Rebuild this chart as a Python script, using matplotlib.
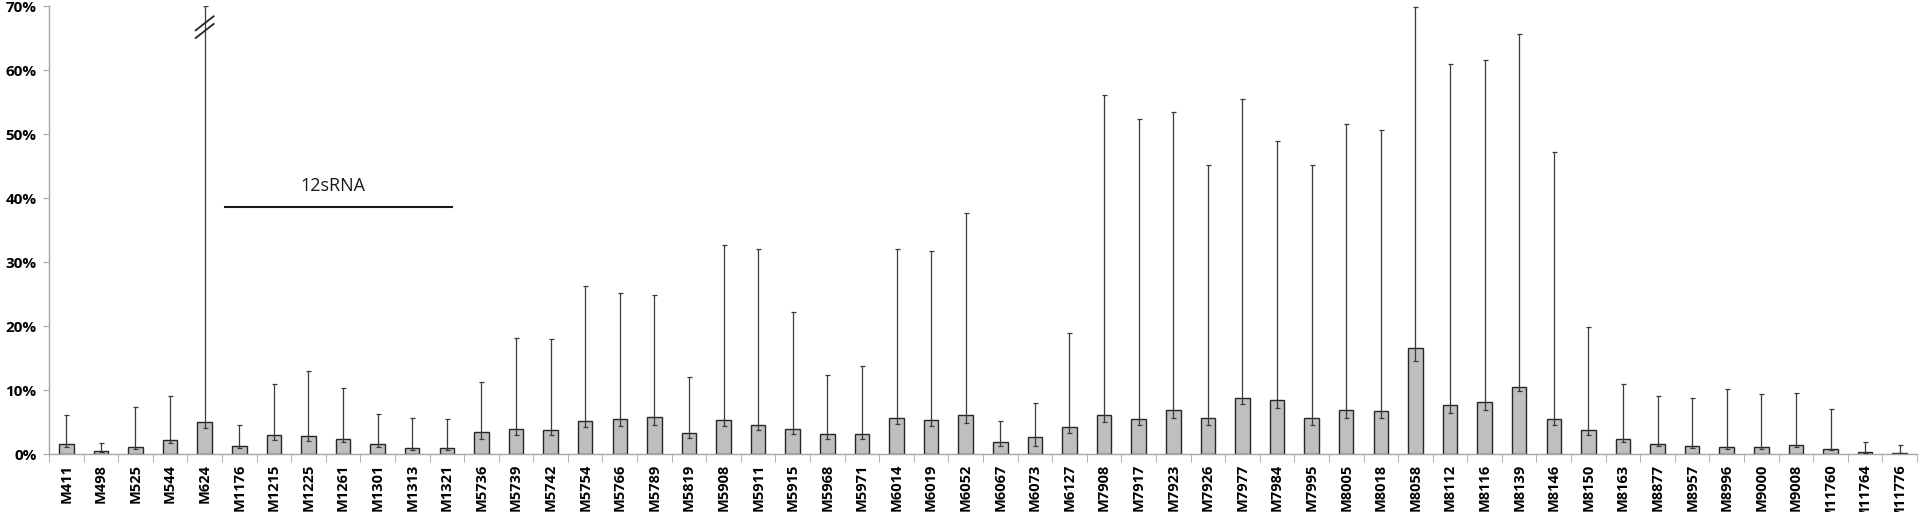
import matplotlib
matplotlib.use("Agg")
import matplotlib.pyplot as plt
import numpy as np

# mutation names
labels = ["M411", "M498", "M525", "M544", "M624", "M1176", "M1215", "M1225", "M1261",
          "M1301", "M1313", "M1321", "M5736", "M5739", "M5742", "M5754", "M5766", "M5789",
          "M5819", "M5908", "M5911", "M5915", "M5968", "M5971", "M6014", "M6019", "M6052",
          "M6067", "M6073", "M6127", "M7908", "M7917", "M7923", "M7926", "M7977", "M7984",
          "M7995", "M8005", "M8018", "M8058", "M8112", "M8116", "M8139", "M8146", "M8150",
          "M8163", "M8877", "M8957", "M8996", "M9000", "M9008", "M11760", "M11764", "M11776"]

# frequency (%)
values = [1.5, 0.4, 1.1, 2.2, 5.0, 1.3, 2.9, 2.8, 2.3,
          1.5, 0.9, 0.9, 3.4, 3.9, 3.7, 5.2, 5.4, 5.8,
          3.3, 5.3, 4.6, 3.9, 3.2, 3.2, 5.7, 5.3, 6.1,
          1.9, 2.6, 4.2, 6.1, 5.5, 6.8, 5.6, 8.7, 8.4,
          5.6, 6.8, 6.7, 16.5, 7.6, 8.2, 10.5, 5.4, 3.7,
          2.4, 1.5, 1.3, 1.1, 1.1, 1.4, 0.8, 0.3, 0.2]

# upper end of the error bar (%), M624 is cut at the axis top
upper = [6.1, 1.7, 7.3, 9.0, 70.0, 4.5, 11.0, 13.0, 10.3,
         6.3, 5.6, 5.4, 11.2, 18.2, 18.0, 26.3, 25.2, 24.9,
         12.1, 32.7, 32.0, 22.2, 12.3, 13.8, 32.1, 31.7, 37.7,
         5.2, 7.9, 18.9, 56.1, 52.3, 53.5, 45.1, 55.5, 48.9,
         45.1, 51.6, 50.7, 69.8, 61.0, 61.6, 65.7, 47.2, 19.9,
         10.9, 9.0, 8.8, 10.1, 9.4, 9.6, 7.1, 1.9, 1.4]

# lower error (%)
lower = [0.4, 0.1, 0.3, 0.5, 1.0, 0.3, 0.7, 0.7, 0.5,
         0.4, 0.2, 0.2, 1.1, 0.9, 0.8, 1.0, 1.1, 1.2,
         0.8, 0.9, 0.9, 0.8, 0.8, 0.8, 1.0, 1.0, 1.2,
         0.6, 1.3, 0.9, 1.1, 1.0, 1.2, 1.0, 0.9, 1.2,
         1.0, 1.1, 1.1, 2.0, 1.2, 1.3, 0.7, 0.9, 0.7,
         0.6, 0.3, 0.3, 0.3, 0.3, 0.3, 0.2, 0.1, 0.1]

plt.rcParams['font.family'] = ['Open Sans', 'DejaVu Sans']

x = np.arange(len(labels))
vals = np.array(values)
yerr = [np.array(lower), np.array(upper) - vals]

fig = plt.figure(figsize=(19.2, 5.12), dpi=100)
ax = fig.add_axes([49 / 1920, 1 - 454 / 512, (1917 - 49) / 1920, (454 - 6) / 512])

ax.bar(x, vals, width=0.42, color='#bfbfbf', edgecolor='#262626', linewidth=1.0, zorder=2)
ax.errorbar(x, vals, yerr=yerr, fmt='none', ecolor='#3a3a3a', elinewidth=0.9,
            capsize=1.8, capthick=0.9, zorder=3)

# axis break mark on M624
brk = 4
ax.plot([brk - 0.26, brk + 0.26], [66.2, 68.4], color='#262626', lw=1.3, zorder=4, clip_on=False)
ax.plot([brk - 0.26, brk + 0.26], [65.0, 67.2], color='#262626', lw=1.3, zorder=4, clip_on=False)

# 12sRNA region
ax.plot([4.6, 11.15], [38.6, 38.6], color='#1a1a1a', lw=1.5)
ax.text(7.7, 41.8, "12sRNA", ha='center', va='center', fontsize=13, color='#1a1a1a')

ax.set_xlim(-0.5, len(labels) - 0.5)
ax.set_ylim(0, 70)
ax.set_yticks(np.arange(0, 71, 10))
ax.set_yticklabels([f"{v}%" for v in range(0, 71, 10)], fontsize=11, fontweight='bold')
ax.set_xticks(x)
ax.set_xticklabels(labels, rotation=90, fontsize=10.5, fontweight='bold')
ax.set_xticks(np.arange(-0.5, len(labels), 1), minor=True)
ax.tick_params(axis='x', which='major', length=0, pad=7)
ax.tick_params(axis='x', which='minor', length=6, color='#a6a6a6', direction='out')
ax.tick_params(axis='y', length=4, color='#a6a6a6', pad=5)

for s in ['top', 'right']:
    ax.spines[s].set_visible(False)
for s in ['left', 'bottom']:
    ax.spines[s].set_color('#a6a6a6')
    ax.spines[s].set_linewidth(1.0)

fig.savefig("out.png", dpi=100)
